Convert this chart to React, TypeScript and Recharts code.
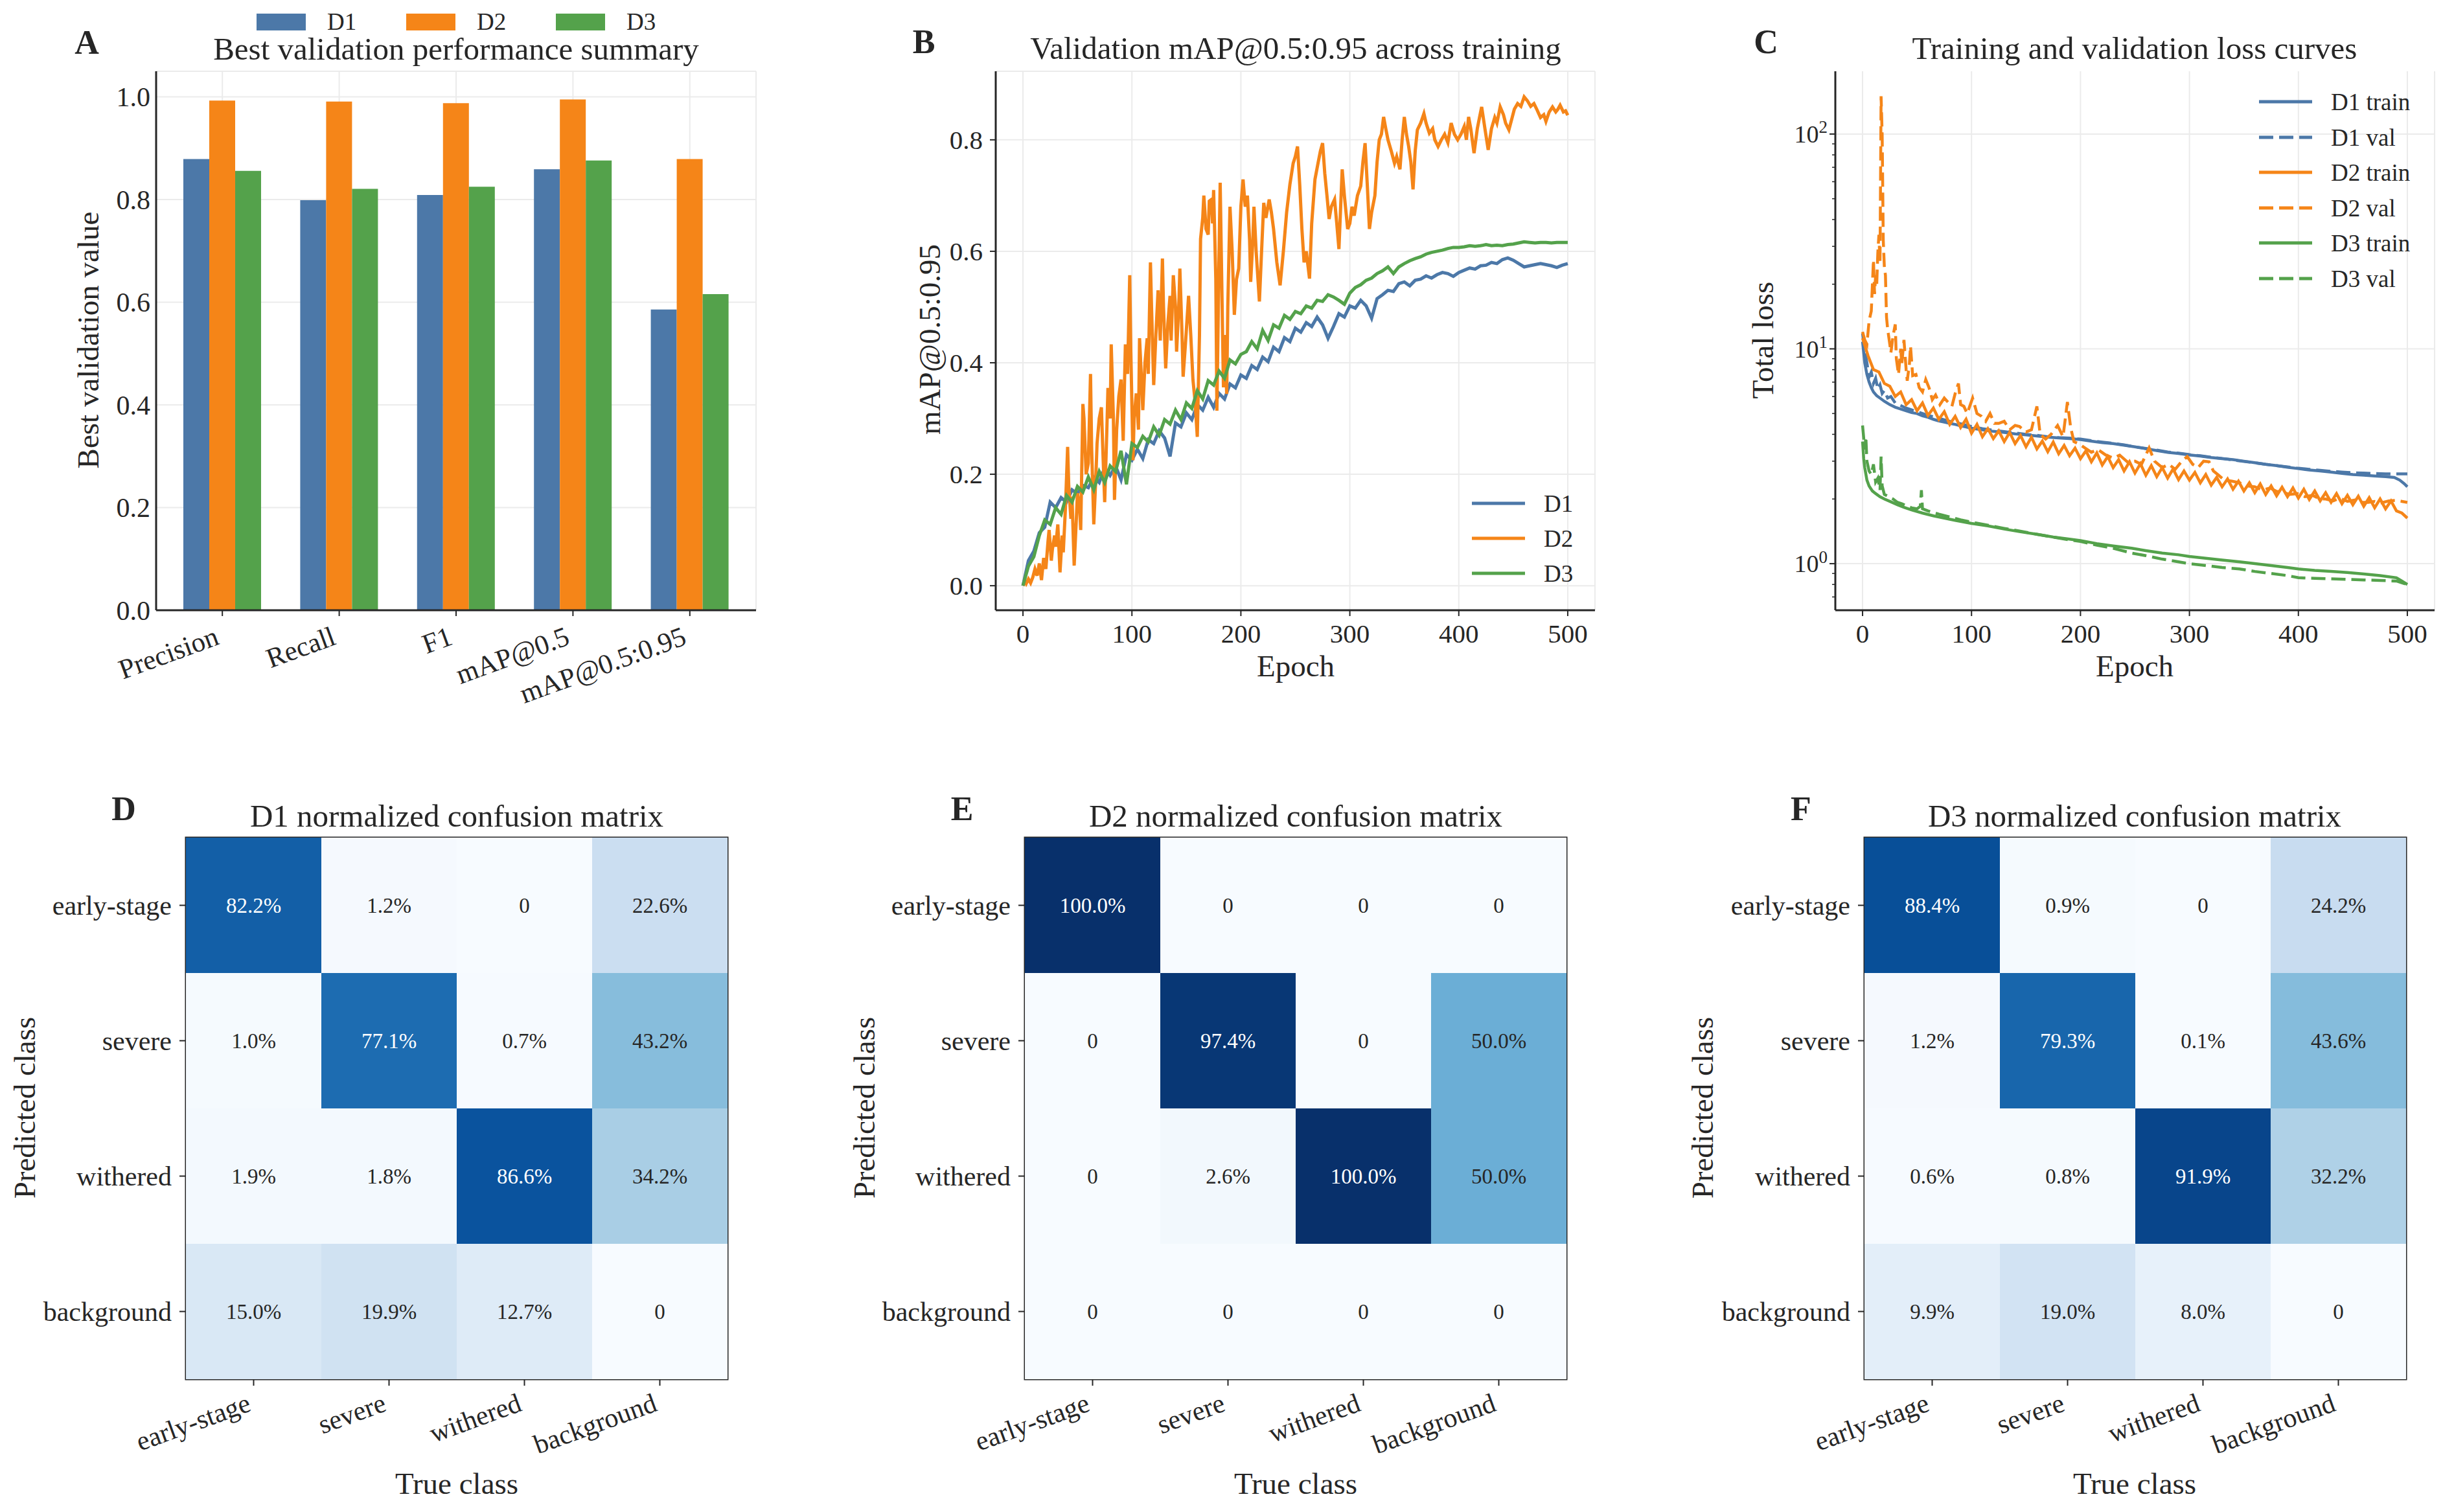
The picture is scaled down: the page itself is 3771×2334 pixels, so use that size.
import React from 'react';
import {
  BarChart,
  Bar,
  LineChart,
  Line,
  ScatterChart,
  Scatter,
  XAxis,
  YAxis,
  CartesianGrid,
  ReferenceArea
} from 'recharts';

const FONT = "'Liberation Serif', 'Times New Roman', Times, serif";
const INK = '#262626';
const GRID = '#ebebeb';
const BLUE = '#4c78a8';
const ORANGE = '#f58518';
const GREEN = '#54a24b';

// ---- A: best validation metrics
const metrics = ['Precision', 'Recall', 'F1', 'mAP@0.5', 'mAP@0.5:0.95'];
const bestD1 = [0.879, 0.799, 0.809, 0.859, 0.586];
const bestD2 = [0.993, 0.991, 0.988, 0.995, 0.879];
const bestD3 = [0.856, 0.821, 0.825, 0.876, 0.616];
const barTicks = [0, 0.2, 0.4, 0.6, 0.8, 1.0];

// ---- B: validation mAP@0.5:0.95 (D1, D3 every 5 epochs; D2 as [epoch, value])
const epochTicks = [0, 100, 200, 300, 400, 500];
const mapTicks = [0, 0.2, 0.4, 0.6, 0.8];
const mapD1 = [
  0, 0.045, 0.062, 0.095, 0.105, 0.15, 0.14, 0.158, 0.15, 0.172,
  0.165, 0.18, 0.176, 0.195, 0.185, 0.212, 0.198, 0.215, 0.19, 0.235,
  0.225, 0.245, 0.228, 0.262, 0.255, 0.278, 0.265, 0.232, 0.292, 0.285,
  0.31, 0.298, 0.325, 0.315, 0.338, 0.32, 0.345, 0.335, 0.362, 0.355,
  0.378, 0.372, 0.395, 0.388, 0.41, 0.402, 0.428, 0.42, 0.445, 0.438,
  0.462, 0.455, 0.472, 0.465, 0.482, 0.468, 0.444, 0.465, 0.488, 0.482,
  0.502, 0.498, 0.512, 0.502, 0.48, 0.515, 0.522, 0.53, 0.528, 0.542,
  0.545, 0.538, 0.548, 0.55, 0.556, 0.552, 0.558, 0.562, 0.56, 0.555,
  0.562, 0.566, 0.57, 0.568, 0.574, 0.575, 0.58, 0.578, 0.585, 0.588,
  0.584, 0.578, 0.572, 0.574, 0.576, 0.578, 0.576, 0.574, 0.571, 0.575,
  0.578
];
const mapD3 = [
  0, 0.035, 0.052, 0.09, 0.118, 0.11, 0.14, 0.128, 0.162, 0.15,
  0.178, 0.168, 0.195, 0.172, 0.205, 0.185, 0.215, 0.205, 0.242, 0.182,
  0.255, 0.248, 0.268, 0.258, 0.285, 0.27, 0.298, 0.29, 0.315, 0.298,
  0.328, 0.318, 0.35, 0.335, 0.368, 0.36, 0.385, 0.372, 0.405, 0.398,
  0.415, 0.42, 0.438, 0.425, 0.458, 0.44, 0.468, 0.462, 0.485, 0.478,
  0.492, 0.488, 0.502, 0.498, 0.512, 0.51, 0.522, 0.518, 0.512, 0.505,
  0.525, 0.535, 0.54, 0.548, 0.552, 0.56, 0.565, 0.572, 0.56, 0.572,
  0.578, 0.583, 0.587, 0.59, 0.595, 0.598, 0.6, 0.602, 0.605, 0.607,
  0.607, 0.608, 0.61, 0.609, 0.61, 0.612, 0.61, 0.611, 0.61, 0.612,
  0.613, 0.615, 0.617, 0.616, 0.615, 0.616, 0.616, 0.615, 0.616, 0.616,
  0.616
];
const mapD2: [number, number][] = [
  [0, 0], [2, 0.008], [3, 0.004], [5, 0.012], [7, 0.005], [9, 0.015], [11, 0.03], [13, 0.018],
  [15, 0.04], [17, 0.01], [19, 0.05], [21, 0.03], [23, 0.08], [24, 0.1], [26, 0.045], [27, 0.065],
  [29, 0.09], [30, 0.07], [32, 0.11], [34, 0.024], [36, 0.09], [37, 0.06], [39, 0.14], [41, 0.249],
  [42, 0.18], [44, 0.12], [45, 0.16], [47, 0.036], [49, 0.12], [50, 0.166], [52, 0.14], [53, 0.1],
  [55, 0.326], [56, 0.3], [58, 0.2], [60, 0.22], [62, 0.38], [63, 0.25], [65, 0.11], [67, 0.2],
  [68, 0.255], [70, 0.3], [72, 0.32], [73, 0.26], [75, 0.15], [77, 0.28], [78, 0.355], [80, 0.3],
  [81, 0.433], [83, 0.3], [84, 0.154], [86, 0.28], [88, 0.34], [90, 0.37], [92, 0.26], [94, 0.433],
  [96, 0.38], [98, 0.557], [99, 0.42], [101, 0.225], [102, 0.3], [104, 0.345], [106, 0.28],
  [107, 0.444], [109, 0.36], [110, 0.315], [112, 0.4], [114, 0.444], [115, 0.38], [117, 0.58],
  [118, 0.5], [120, 0.36], [122, 0.45], [124, 0.53], [126, 0.44], [128, 0.587], [129, 0.5],
  [131, 0.39], [133, 0.47], [135, 0.52], [136, 0.44], [138, 0.557], [140, 0.5], [141, 0.42],
  [143, 0.5], [144, 0.569], [146, 0.45], [147, 0.375], [149, 0.43], [150, 0.46], [152, 0.52],
  [154, 0.45], [156, 0.37], [158, 0.33], [160, 0.267], [162, 0.45], [163, 0.622], [165, 0.66],
  [166, 0.7], [168, 0.64], [170, 0.63], [171, 0.69], [173, 0.693], [174, 0.65], [175, 0.71],
  [177, 0.55], [178, 0.314], [180, 0.6], [181, 0.723], [182, 0.6], [184, 0.356], [185, 0.45],
  [187, 0.344], [188, 0.5], [190, 0.68], [192, 0.6], [194, 0.486], [196, 0.55], [198, 0.569],
  [200, 0.68], [202, 0.729], [204, 0.68], [206, 0.7], [208, 0.62], [209, 0.545], [211, 0.62],
  [212, 0.68], [214, 0.6], [217, 0.51], [219, 0.6], [221, 0.687], [223, 0.66], [226, 0.693],
  [228, 0.67], [230, 0.64], [233, 0.58], [236, 0.539], [239, 0.6], [242, 0.67], [245, 0.72],
  [248, 0.758], [250, 0.77], [252, 0.788], [254, 0.72], [256, 0.64], [258, 0.58], [260, 0.6],
  [263, 0.551], [265, 0.65], [268, 0.729], [271, 0.76], [273, 0.78], [275, 0.794], [277, 0.74],
  [279, 0.7], [281, 0.658], [283, 0.68], [286, 0.693], [288, 0.65], [290, 0.604], [292, 0.7],
  [293, 0.747], [295, 0.7], [298, 0.64], [300, 0.65], [302, 0.68], [304, 0.664], [307, 0.7],
  [310, 0.717], [312, 0.76], [314, 0.794], [316, 0.72], [318, 0.64], [320, 0.67], [323, 0.7],
  [325, 0.76], [327, 0.8], [329, 0.81], [331, 0.841], [333, 0.82], [335, 0.8], [338, 0.78],
  [341, 0.758], [343, 0.77], [346, 0.747], [348, 0.8], [350, 0.841], [352, 0.81], [354, 0.788],
  [356, 0.76], [358, 0.711], [360, 0.78], [362, 0.818], [365, 0.83], [368, 0.847], [370, 0.83],
  [373, 0.812], [376, 0.82], [378, 0.8], [381, 0.788], [384, 0.8], [387, 0.81], [390, 0.795],
  [393, 0.83], [396, 0.81], [399, 0.8], [402, 0.81], [405, 0.824], [407, 0.8], [409, 0.841],
  [411, 0.82], [414, 0.776], [417, 0.82], [419, 0.84], [421, 0.859], [424, 0.82], [427, 0.782],
  [430, 0.82], [433, 0.84], [435, 0.83], [438, 0.859], [441, 0.845], [443, 0.83], [446, 0.818],
  [449, 0.84], [451, 0.855], [454, 0.865], [457, 0.86], [460, 0.877], [463, 0.87], [466, 0.86],
  [469, 0.865], [472, 0.853], [475, 0.84], [478, 0.845], [480, 0.833], [483, 0.85], [486, 0.859],
  [489, 0.85], [491, 0.855], [493, 0.862], [496, 0.85], [498, 0.852], [500, 0.844]
];

// ---- C: total loss, log scale
const lossMajor = [1, 10, 100];
const lossTicks = [0.7, 0.8, 0.9, 1, 2, 3, 4, 5, 6, 7, 8, 9, 10, 20, 30, 40, 50, 60, 70, 80, 90, 100];
const lossD1Train: [number, number][] = [
  [0, 10.8], [2, 8.6], [4, 7.6], [6, 7.0], [8, 6.6], [10, 6.3], [13, 6.05], [16, 5.9], [20, 5.7],
  [25, 5.5], [30, 5.35], [35, 5.25], [40, 5.15], [45, 5.05], [50, 5.0], [55, 4.88], [60, 4.8],
  [65, 4.7], [70, 4.62], [75, 4.56], [80, 4.5], [85, 4.45], [90, 4.38], [95, 4.33], [100, 4.27],
  [110, 4.2], [120, 4.13], [130, 4.08], [140, 4.02], [150, 3.98], [160, 3.93], [170, 3.88],
  [180, 3.85], [190, 3.82], [200, 3.78], [210, 3.72], [220, 3.66], [230, 3.62], [240, 3.56],
  [250, 3.5], [260, 3.43], [270, 3.36], [280, 3.3], [290, 3.26], [300, 3.21], [310, 3.17],
  [320, 3.12], [330, 3.08], [340, 3.05], [350, 3.0], [360, 2.95], [370, 2.9], [380, 2.86],
  [390, 2.81], [400, 2.77], [410, 2.73], [420, 2.7], [430, 2.67], [440, 2.63], [450, 2.6],
  [460, 2.58], [470, 2.56], [480, 2.54], [488, 2.52], [493, 2.45], [497, 2.36], [500, 2.28]
];
const lossD1Val: [number, number][] = [
  [0, 11.8], [2, 9.8], [4, 8.6], [6, 7.4], [8, 7.8], [10, 6.9], [12, 7.3], [14, 6.5], [16, 6.8],
  [18, 6.2], [20, 6.4], [23, 5.9], [26, 6.0], [30, 5.6], [35, 5.45], [40, 5.3], [45, 5.2],
  [50, 5.1], [60, 4.9], [70, 4.75], [80, 4.6], [90, 4.48], [100, 4.35], [110, 4.25], [120, 4.18],
  [130, 4.12], [140, 4.06], [150, 4.0], [160, 3.96], [170, 3.9], [180, 3.86], [190, 3.84],
  [200, 3.8], [210, 3.74], [220, 3.68], [230, 3.63], [240, 3.57], [250, 3.5], [260, 3.44],
  [270, 3.38], [280, 3.31], [290, 3.27], [300, 3.22], [310, 3.18], [320, 3.13], [330, 3.09],
  [340, 3.04], [350, 2.99], [360, 2.95], [370, 2.9], [380, 2.86], [390, 2.82], [400, 2.78],
  [410, 2.75], [420, 2.72], [430, 2.69], [440, 2.67], [450, 2.65], [460, 2.64], [470, 2.63],
  [480, 2.62], [490, 2.62], [500, 2.62]
];
// D2 train, every 5 epochs
const lossD2Train = [
  11.2, 9.3, 8.0, 7.8, 6.9, 6.7, 6.0, 6.3, 5.5, 5.8,
  5.15, 5.6, 4.9, 5.3, 4.7, 5.1, 4.45, 4.85, 4.3, 4.7,
  4.05, 4.45, 3.9, 4.25, 3.82, 4.15, 3.7, 4.08, 3.62, 3.95,
  3.5, 3.88, 3.42, 3.72, 3.32, 3.68, 3.25, 3.55, 3.18, 3.45,
  3.08, 3.35, 2.98, 3.28, 2.88, 3.15, 2.8, 3.05, 2.7, 2.98,
  2.64, 2.92, 2.58, 2.86, 2.54, 2.8, 2.5, 2.76, 2.46, 2.7,
  2.45, 2.66, 2.38, 2.6, 2.32, 2.52, 2.28, 2.48, 2.22, 2.42,
  2.18, 2.38, 2.14, 2.35, 2.1, 2.3, 2.07, 2.27, 2.05, 2.25,
  2.02, 2.22, 1.99, 2.18, 1.96, 2.14, 1.93, 2.12, 1.9, 2.08,
  1.88, 2.06, 1.85, 2.03, 1.82, 2.0, 1.8, 1.96, 1.76, 1.72,
  1.63
];
const lossD2Val: [number, number][] = [
  [0, 12.0], [2, 11.0], [4, 10.5], [6, 13.5], [8, 15], [10, 26], [11, 18], [12, 22], [13, 20],
  [14, 28], [15, 34], [16, 25], [17, 150], [18, 99], [19, 32], [20, 24], [21, 22], [22, 14],
  [23, 12.4], [25, 10.5], [26, 9.6], [28, 11.5], [30, 13], [31, 9], [33, 7.6], [35, 10],
  [36, 8.5], [38, 11], [40, 8], [41, 7.1], [43, 8.5], [44, 10.3], [46, 7.5], [49, 7.6],
  [52, 6.6], [55, 6.3], [58, 7.2], [61, 6.6], [64, 5.8], [67, 6.1], [71, 5.5], [75, 5.9],
  [79, 5.6], [82, 5.4], [85, 6.2], [88, 6.9], [90, 5.5], [93, 5.4], [96, 5.0], [101, 5.9],
  [105, 5.0], [109, 4.86], [113, 4.6], [117, 5.0], [121, 4.5], [125, 4.5], [130, 4.6], [135, 4.2],
  [140, 4.4], [144, 4.35], [150, 4.1], [155, 4.2], [160, 5.4], [163, 4.0], [168, 3.8], [173, 4.0],
  [179, 4.4], [184, 3.9], [188, 5.66], [191, 4.3], [194, 3.7], [199, 3.6], [204, 3.46], [210, 3.3],
  [216, 3.4], [223, 3.21], [230, 3.1], [236, 3.2], [243, 2.98], [250, 3.0], [256, 2.9], [263, 3.46],
  [268, 3.0], [275, 2.8], [281, 2.9], [287, 2.75], [293, 3.0], [298, 3.15], [303, 2.9], [308, 2.8],
  [313, 3.0], [318, 2.98], [322, 2.7], [326, 2.6], [332, 2.45], [339, 2.42], [346, 2.38],
  [353, 2.3], [360, 2.28], [367, 2.2], [374, 2.25], [380, 2.17], [385, 2.16], [392, 2.1],
  [399, 2.12], [406, 2.05], [413, 2.08], [420, 2.0], [425, 2.0], [432, 1.96], [438, 2.02],
  [445, 1.95], [452, 1.98], [458, 1.93], [464, 1.93], [470, 1.95], [476, 1.92], [483, 1.96],
  [490, 1.97], [495, 1.95], [500, 1.93]
];
const lossD3Train: [number, number][] = [
  [0, 3.7], [1, 3.1], [2, 2.8], [4, 2.45], [6, 2.3], [9, 2.18], [12, 2.12], [16, 2.05], [20, 2.0],
  [26, 1.94], [32, 1.88], [38, 1.83], [45, 1.78], [55, 1.72], [65, 1.67], [75, 1.63], [85, 1.59],
  [100, 1.54], [115, 1.5], [130, 1.45], [144, 1.41], [160, 1.37], [175, 1.33], [190, 1.3],
  [200, 1.28], [215, 1.24], [230, 1.21], [247, 1.18], [260, 1.15], [275, 1.12], [290, 1.1],
  [300, 1.08], [315, 1.06], [330, 1.04], [346, 1.02], [360, 1.0], [375, 0.98], [390, 0.96],
  [400, 0.945], [415, 0.93], [430, 0.92], [445, 0.91], [460, 0.895], [475, 0.88], [490, 0.86],
  [495, 0.83], [500, 0.8]
];
const lossD3Val: [number, number][] = [
  [0, 4.4], [2, 3.4], [3, 3.9], [4, 3.0], [6, 2.7], [8, 2.6], [10, 2.9], [12, 2.4], [14, 2.5],
  [16, 2.2], [17, 3.15], [18, 2.3], [20, 2.1], [24, 2.05], [28, 2.0], [32, 1.93], [36, 1.9],
  [40, 1.86], [45, 1.82], [50, 1.8], [53, 1.85], [54, 2.2], [55, 1.8], [60, 1.76], [70, 1.7],
  [80, 1.65], [90, 1.6], [100, 1.56], [115, 1.51], [130, 1.46], [144, 1.42], [160, 1.37],
  [175, 1.33], [190, 1.29], [200, 1.27], [215, 1.22], [230, 1.18], [247, 1.12], [260, 1.09],
  [275, 1.05], [290, 1.02], [300, 1.0], [315, 0.98], [330, 0.96], [346, 0.945], [360, 0.92],
  [375, 0.9], [390, 0.88], [400, 0.86], [415, 0.855], [430, 0.85], [445, 0.845], [460, 0.84],
  [475, 0.835], [490, 0.83], [500, 0.8]
];

// ---- D-F: normalized confusion matrices (rows = predicted, cols = true)
const classes = ['early-stage', 'severe', 'withered', 'background'];
const cmD1 = [
  [0.822, 0.012, 0, 0.226],
  [0.010, 0.771, 0.007, 0.432],
  [0.019, 0.018, 0.866, 0.342],
  [0.150, 0.199, 0.127, 0]
];
const cmD2 = [
  [1.0, 0, 0, 0],
  [0, 0.974, 0, 0.5],
  [0, 0.026, 1.0, 0.5],
  [0, 0, 0, 0]
];
const cmD3 = [
  [0.884, 0.009, 0, 0.242],
  [0.012, 0.793, 0.001, 0.436],
  [0.006, 0.008, 0.919, 0.322],
  [0.099, 0.190, 0.080, 0]
];
const cellIdx = [0, 1, 2, 3];

// ---- helpers
const every5 = (vals: number[]) => vals.map((v, i) => ({ epoch: i * 5, v }));
const pairs = (p: [number, number][]) => p.map(([epoch, v]) => ({ epoch, v }));
const barRows = metrics.map((m, i) => ({ metric: m, D1: bestD1[i], D2: bestD2[i], D3: bestD3[i] }));
const cellsOf = (cm: number[][]) => cm.flatMap((row, r) => row.map((v, c) => ({ col: c, row: r, v })));

const BLUES = ['#f7fbff', '#deebf7', '#c6dbef', '#9ecae1', '#6baed6', '#4292c6', '#2171b5', '#08519c', '#08306b'];
const hex = (h: string) => [1, 3, 5].map(i => parseInt(h.slice(i, i + 2), 16));
function blues(t: number) {
  const p = Math.min(Math.max(t, 0), 1) * 8;
  const i = Math.min(Math.floor(p), 7);
  const f = p - i;
  const a = hex(BLUES[i]);
  const b = hex(BLUES[i + 1]);
  const c = a.map((x, k) => Math.round(x + (b[k] - x) * f));
  return `rgb(${c[0]},${c[1]},${c[2]})`;
}
const pct = (v: number) => (v === 0 ? '0' : `${(v * 100).toFixed(1)}%`);

const MAT = 836;
const CELL = MAT / 4;

// ---- text pieces
const Txt = ({ x, y, size, bold, vertical, children }: any) => (
  <div
    style={{
      position: 'absolute',
      left: x,
      top: y,
      transform: `translate(-50%, -50%)${vertical ? ' rotate(-90deg)' : ''}`,
      fontSize: size,
      fontWeight: bold ? 700 : 400,
      lineHeight: 0.9,
      whiteSpace: 'nowrap',
      color: INK
    }}
  >
    {children}
  </div>
);

const KeyRow = ({ x, y, color, dash, label }: any) => (
  <div style={{ position: 'absolute', left: x, top: y - 20, height: 40, display: 'flex', alignItems: 'center' }}>
    <svg width={82} height={10}>
      <line x1={0} y1={5} x2={82} y2={5} stroke={color} strokeWidth={5} strokeDasharray={dash} />
    </svg>
    <span style={{ marginLeft: 29, fontSize: 37, lineHeight: 1, color: INK }}>{label}</span>
  </div>
);

// ---- ticks
const BottomTick = ({ x, y, payload }: any) => (
  <g>
    <line x1={x} y1={y} x2={x} y2={y + 9} stroke={INK} strokeWidth={2} />
    <text x={x} y={y + 50} textAnchor="middle" fontSize={41} fontFamily={FONT} fill={INK}>
      {payload.value}
    </text>
  </g>
);

const LeftTick = ({ x, y, payload }: any) => (
  <g>
    <line x1={x - 9} y1={y} x2={x} y2={y} stroke={INK} strokeWidth={2} />
    <text x={x - 20} y={y} dy="0.35em" textAnchor="end" fontSize={41} fontFamily={FONT} fill={INK}>
      {Number(payload.value).toFixed(1)}
    </text>
  </g>
);

const BarYTick = ({ x, y, payload }: any) => (
  <text x={x - 9} y={y} dy="0.35em" textAnchor="end" fontSize={42} fontFamily={FONT} fill={INK}>
    {Number(payload.value).toFixed(1)}
  </text>
);

const SlantTick = ({ x, y, payload }: any) => (
  <g>
    <line x1={x} y1={y} x2={x} y2={y + 9} stroke={INK} strokeWidth={2} />
    <text transform={`translate(${x - 3},${y + 52}) rotate(-20)`} textAnchor="end" fontSize={43} fontFamily={FONT} fill={INK}>
      {payload.value}
    </text>
  </g>
);

const LogTick = ({ x, y, payload }: any) => {
  const v = payload.value;
  const e = Math.round(Math.log10(v));
  const major = lossMajor.includes(v);
  return (
    <g>
      <line x1={x - (major ? 9 : 5)} y1={y} x2={x} y2={y} stroke={INK} strokeWidth={major ? 2 : 1.5} />
      {major && (
        <text x={x - 12} y={y} dy="0.35em" textAnchor="end" fontSize={38} fontFamily={FONT} fill={INK}>
          10<tspan dy="-0.55em" fontSize={27}>{e}</tspan>
        </text>
      )}
    </g>
  );
};

const MatXTick = ({ x, y, payload }: any) => (
  <g>
    <line x1={x} y1={y} x2={x} y2={y + 10} stroke={INK} strokeWidth={2} />
    <text transform={`translate(${x - 2},${y + 48}) rotate(-20)`} textAnchor="end" fontSize={42} fontFamily={FONT} fill={INK}>
      {classes[payload.value]}
    </text>
  </g>
);

const MatYTick = ({ x, y, payload }: any) => (
  <g>
    <line x1={x - 10} y1={y} x2={x} y2={y} stroke={INK} strokeWidth={2} />
    <text x={x - 22} y={y} dy="0.35em" textAnchor="end" fontSize={42} fontFamily={FONT} fill={INK}>
      {classes[payload.value]}
    </text>
  </g>
);

const HeatCell = ({ cx, cy, payload }: any) => (
  <g>
    <rect x={cx - CELL / 2} y={cy - CELL / 2} width={CELL + 0.5} height={CELL + 0.5} fill={blues(payload.v)} />
    <text x={cx} y={cy} dy="0.35em" textAnchor="middle" fontSize={33} fontFamily={FONT} fill={payload.v > 0.5 ? '#ffffff' : INK}>
      {pct(payload.v)}
    </text>
  </g>
);

const spine = { stroke: INK, strokeWidth: 3 };

const Matrix = ({ left, width, yWidth, cm }: any) => (
  <div style={{ position: 'absolute', left, top: 1180 }}>
    <ScatterChart width={width} height={1154} margin={{ top: 113, right: width - yWidth - MAT, bottom: 5, left: 0 }}>
      <XAxis type="number" dataKey="col" domain={[-0.5, 3.5]} ticks={cellIdx} interval={0} height={200}
        axisLine={false} tickLine={false} tickSize={0} tickMargin={0} tick={<MatXTick />} allowDataOverflow />
      <YAxis type="number" dataKey="row" domain={[-0.5, 3.5]} ticks={cellIdx} interval={0} width={yWidth} reversed
        axisLine={false} tickLine={false} tickSize={0} tickMargin={0} tick={<MatYTick />} allowDataOverflow />
      <Scatter data={cellsOf(cm)} shape={(p: any) => <HeatCell {...p} />} isAnimationActive={false} />
      <ReferenceArea x1={-0.5} x2={3.5} y1={-0.5} y2={3.5} fill="none" stroke={INK} strokeWidth={3} ifOverflow="visible" />
    </ScatterChart>
  </div>
);

export default function App() {
  return (
    <div
      style={{
        position: 'absolute',
        left: 0,
        top: 0,
        width: 3771,
        height: 2334,
        background: '#ffffff',
        fontFamily: FONT,
        color: INK,
        overflow: 'hidden'
      }}
    >
      {/* A */}
      <div style={{ position: 'absolute', left: 0, top: 0 }}>
        <BarChart width={1200} height={1100} data={barRows} margin={{ top: 110, right: 33, bottom: 8, left: 0 }}
          barGap={0} barSize={40}>
          <CartesianGrid stroke={GRID} strokeWidth={2} />
          <XAxis dataKey="metric" padding={{ left: 12, right: 12 }} height={150} interval={0} axisLine={spine}
            tickLine={false} tickSize={0} tickMargin={0} tick={<SlantTick />} />
          <YAxis width={241} domain={[0, 1.05]} ticks={barTicks} interval={0} axisLine={spine}
            tickLine={false} tickSize={0} tickMargin={0} tick={<BarYTick />} />
          <Bar dataKey="D1" fill={BLUE} isAnimationActive={false} />
          <Bar dataKey="D2" fill={ORANGE} isAnimationActive={false} />
          <Bar dataKey="D3" fill={GREEN} isAnimationActive={false} />
        </BarChart>
      </div>
      {[['D1', BLUE, 396], ['D2', ORANGE, 627], ['D3', GREEN, 858]].map(([name, col, x]: any) => (
        <div key={name} style={{ position: 'absolute', left: x, top: 21, height: 26, display: 'flex', alignItems: 'center' }}>
          <div style={{ width: 76, height: 26, background: col }} />
          <span style={{ marginLeft: 33, fontSize: 37, lineHeight: 0.75 }}>{name}</span>
        </div>
      ))}
      <Txt x={134} y={66} size={52} bold>A</Txt>
      <Txt x={704} y={76} size={49}>Best validation performance summary</Txt>
      <Txt x={136} y={525} size={47} vertical>Best validation value</Txt>

      {/* B */}
      <div style={{ position: 'absolute', left: 1300, top: 0 }}>
        <LineChart width={1200} height={1100} margin={{ top: 110, right: 38, bottom: 8, left: 0 }}>
          <CartesianGrid stroke={GRID} strokeWidth={2} />
          <XAxis type="number" dataKey="epoch" domain={[-25, 525]} ticks={epochTicks} interval={0} height={150}
            axisLine={spine} tickLine={false} tickSize={0} tickMargin={0} tick={<BottomTick />} allowDataOverflow />
          <YAxis type="number" domain={[-0.044, 0.923]} ticks={mapTicks} interval={0} width={237}
            axisLine={spine} tickLine={false} tickSize={0} tickMargin={0} tick={<LeftTick />} allowDataOverflow />
          <Line data={every5(mapD1)} dataKey="v" stroke={BLUE} strokeWidth={5} dot={false} activeDot={false} isAnimationActive={false} />
          <Line data={pairs(mapD2)} dataKey="v" stroke={ORANGE} strokeWidth={5} dot={false} activeDot={false} isAnimationActive={false} />
          <Line data={every5(mapD3)} dataKey="v" stroke={GREEN} strokeWidth={5} dot={false} activeDot={false} isAnimationActive={false} />
        </LineChart>
      </div>
      <KeyRow x={2272} y={777} color={BLUE} label="D1" />
      <KeyRow x={2272} y={831} color={ORANGE} label="D2" />
      <KeyRow x={2272} y={885} color={GREEN} label="D3" />
      <Txt x={1426} y={65} size={52} bold>B</Txt>
      <Txt x={2000} y={75} size={49}>Validation mAP@0.5:0.95 across training</Txt>
      <Txt x={1435} y={524} size={47} vertical>mAP@0.5:0.95</Txt>
      <Txt x={2000} y={1028} size={47}>Epoch</Txt>

      {/* C */}
      <div style={{ position: 'absolute', left: 2620, top: 0 }}>
        <LineChart width={1151} height={1100} margin={{ top: 110, right: 13, bottom: 8, left: 0 }}>
          <CartesianGrid stroke={GRID} strokeWidth={2} horizontalValues={lossMajor} />
          <XAxis type="number" dataKey="epoch" domain={[-25, 525]} ticks={epochTicks} interval={0} height={150}
            axisLine={spine} tickLine={false} tickSize={0} tickMargin={0} tick={<BottomTick />} allowDataOverflow />
          <YAxis type="number" scale="log" domain={[0.607, 196]} ticks={lossTicks} interval={0} width={213}
            axisLine={spine} tickLine={false} tickSize={0} tickMargin={0} tick={<LogTick />} allowDataOverflow />
          <Line data={pairs(lossD1Train)} dataKey="v" stroke={BLUE} strokeWidth={4.5} dot={false} activeDot={false} isAnimationActive={false} />
          <Line data={pairs(lossD1Val)} dataKey="v" stroke={BLUE} strokeWidth={4.5} strokeDasharray="22 9" dot={false} activeDot={false} isAnimationActive={false} />
          <Line data={every5(lossD2Train)} dataKey="v" stroke={ORANGE} strokeWidth={4.5} dot={false} activeDot={false} isAnimationActive={false} />
          <Line data={pairs(lossD2Val)} dataKey="v" stroke={ORANGE} strokeWidth={4.5} strokeDasharray="22 9" dot={false} activeDot={false} isAnimationActive={false} />
          <Line data={pairs(lossD3Train)} dataKey="v" stroke={GREEN} strokeWidth={4.5} dot={false} activeDot={false} isAnimationActive={false} />
          <Line data={pairs(lossD3Val)} dataKey="v" stroke={GREEN} strokeWidth={4.5} strokeDasharray="22 9" dot={false} activeDot={false} isAnimationActive={false} />
        </LineChart>
      </div>
      <KeyRow x={3487} y={157} color={BLUE} label="D1 train" />
      <KeyRow x={3487} y={212} color={BLUE} dash="22 9" label="D1 val" />
      <KeyRow x={3487} y={266} color={ORANGE} label="D2 train" />
      <KeyRow x={3487} y={321} color={ORANGE} dash="22 9" label="D2 val" />
      <KeyRow x={3487} y={375} color={GREEN} label="D3 train" />
      <KeyRow x={3487} y={430} color={GREEN} dash="22 9" label="D3 val" />
      <Txt x={2726} y={65} size={52} bold>C</Txt>
      <Txt x={3295} y={75} size={49}>Training and validation loss curves</Txt>
      <Txt x={2721} y={525} size={47} vertical>Total loss</Txt>
      <Txt x={3295} y={1028} size={47}>Epoch</Txt>

      {/* D, E, F */}
      <Matrix left={0} width={1260} yWidth={287} cm={cmD1} />
      <Matrix left={1260} width={1260} yWidth={322} cm={cmD2} />
      <Matrix left={2500} width={1271} yWidth={378} cm={cmD3} />
      <Txt x={191} y={1249} size={52} bold>D</Txt>
      <Txt x={705} y={1260} size={49}>D1 normalized confusion matrix</Txt>
      <Txt x={38} y={1710} size={47} vertical>Predicted class</Txt>
      <Txt x={705} y={2290} size={47}>True class</Txt>
      <Txt x={1485} y={1249} size={52} bold>E</Txt>
      <Txt x={2000} y={1260} size={49}>D2 normalized confusion matrix</Txt>
      <Txt x={1334} y={1710} size={47} vertical>Predicted class</Txt>
      <Txt x={2000} y={2290} size={47}>True class</Txt>
      <Txt x={2780} y={1249} size={52} bold>F</Txt>
      <Txt x={3295} y={1260} size={49}>D3 normalized confusion matrix</Txt>
      <Txt x={2628} y={1710} size={47} vertical>Predicted class</Txt>
      <Txt x={3295} y={2290} size={47}>True class</Txt>
    </div>
  );
}
